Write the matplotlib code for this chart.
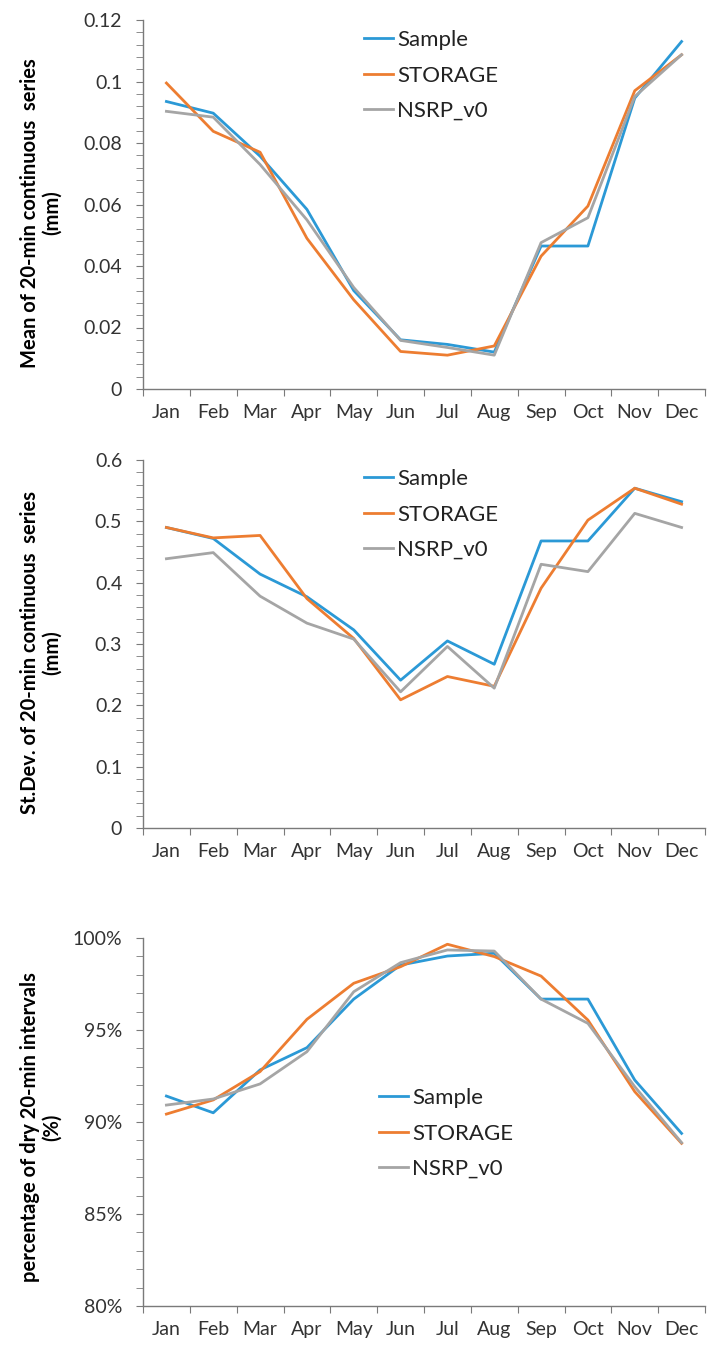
import matplotlib
matplotlib.use("Agg")
import matplotlib.pyplot as plt
from matplotlib.ticker import MultipleLocator, FixedLocator, FuncFormatter

plt.rcParams["font.family"] = ["Lato", "DejaVu Sans"]

MONTHS = ["Jan", "Feb", "Mar", "Apr", "May", "Jun",
          "Jul", "Aug", "Sep", "Oct", "Nov", "Dec"]
SERIES = ["Sample", "STORAGE", "NSRP_v0"]

# mean of 20-min continuous series (mm)
MEAN_SAMPLE = [0.0935, 0.0897, 0.0757, 0.0584, 0.032, 0.016, 0.0145, 0.012, 0.0465, 0.0465, 0.0946, 0.113]
MEAN_STORAGE = [0.0995, 0.0838, 0.077, 0.049, 0.029, 0.0122, 0.011, 0.014, 0.0432, 0.0595, 0.097, 0.1087]
MEAN_NSRP = [0.0903, 0.0884, 0.073, 0.055, 0.033, 0.0158, 0.0135, 0.011, 0.0476, 0.0557, 0.0951, 0.1087]

# st.dev. of 20-min continuous series (mm)
STD_SAMPLE = [0.490, 0.472, 0.414, 0.377, 0.323, 0.241, 0.305, 0.267, 0.468, 0.468, 0.554, 0.532]
STD_STORAGE = [0.490, 0.473, 0.477, 0.374, 0.309, 0.209, 0.247, 0.231, 0.391, 0.502, 0.554, 0.528]
STD_NSRP = [0.439, 0.449, 0.378, 0.334, 0.308, 0.222, 0.296, 0.228, 0.430, 0.418, 0.513, 0.490]

# percentage of dry 20-min intervals (%)
DRY_SAMPLE = [91.41, 90.5, 92.83, 94.04, 96.68, 98.53, 99.02, 99.17, 96.68, 96.68, 92.28, 89.38]
DRY_STORAGE = [90.43, 91.2, 92.74, 95.58, 97.54, 98.44, 99.66, 98.99, 97.93, 95.54, 91.65, 88.84]
DRY_NSRP = [90.92, 91.25, 92.07, 93.82, 97.08, 98.66, 99.35, 99.29, 96.68, 95.36, 91.92, 88.88]

COLORS = ["#2B99D6", "#ED7D31", "#A5A5A5"]
AXIS_COLOR = "#7a7a7a"
TEXT_COLOR = "#333333"

W, H = 708, 1351
fig = plt.figure(figsize=(W / 100, H / 100), dpi=100, facecolor="white")


def px_axes(top, bottom, left=143, right=705):
    return fig.add_axes([left / W, 1 - bottom / H, (right - left) / W, (bottom - top) / H])


def style_axes(ax, ymin, ymax, major, minor, fmt):
    ax.set_xlim(-0.5, 11.5)
    ax.set_ylim(ymin, ymax)
    for s in ["top", "right"]:
        ax.spines[s].set_visible(False)
    for s in ["left", "bottom"]:
        ax.spines[s].set_color(AXIS_COLOR)
        ax.spines[s].set_linewidth(1.0)
    # x: ticks between categories, labels centred
    ax.xaxis.set_major_locator(FixedLocator([i - 0.5 for i in range(13)]))
    ax.xaxis.set_major_formatter(FuncFormatter(lambda v, p: ""))
    ax.set_xticks(range(12), MONTHS, minor=True)
    ax.tick_params(axis="x", which="major", direction="out", length=5, color=AXIS_COLOR)
    ax.tick_params(axis="x", which="minor", length=0, pad=11, labelsize=14, labelcolor=TEXT_COLOR)
    # y
    ax.yaxis.set_major_locator(MultipleLocator(major))
    ax.yaxis.set_minor_locator(MultipleLocator(minor))
    ax.yaxis.set_major_formatter(FuncFormatter(fmt))
    ax.tick_params(axis="y", which="both", direction="out", length=5, color=AXIS_COLOR,
                   labelsize=14, labelcolor=TEXT_COLOR, pad=10)


def draw(ax, data):
    for name, vals, c in zip(SERIES, data, COLORS):
        ax.plot(range(12), vals, color=c, linewidth=2.0, label=name)


def add_legend(ax, x, y):
    fig.legend(*ax.get_legend_handles_labels(), loc="upper left",
               bbox_to_anchor=(x / W, 1 - y / H), frameon=False, fontsize=16,
               handlelength=1.3, handletextpad=0.2, labelspacing=0.7,
               borderpad=0, borderaxespad=0, labelcolor="#222222")


def general(v, p):
    return f"{v:.2f}".rstrip("0").rstrip(".")


# top panel
ax1 = px_axes(20, 389)
draw(ax1, [MEAN_SAMPLE, MEAN_STORAGE, MEAN_NSRP])
style_axes(ax1, 0, 0.12, 0.02, 0.004, general)
add_legend(ax1, 364, 30)

# middle panel
ax2 = px_axes(460, 828)
draw(ax2, [STD_SAMPLE, STD_STORAGE, STD_NSRP])
style_axes(ax2, 0, 0.6, 0.1, 0.02, general)
add_legend(ax2, 364, 469)

# bottom panel
ax3 = px_axes(938, 1306)
draw(ax3, [DRY_SAMPLE, DRY_STORAGE, DRY_NSRP])
style_axes(ax3, 80, 100, 5, 1, lambda v, p: f"{v:.0f}%")
add_legend(ax3, 379, 1088)

ylabels = [
    ("Mean of 20-min continuous  series\n(mm)", 213),
    ("St.Dev. of 20-min continuous  series\n(mm)", 653),
    ("percentage of dry 20-min intervals\n(%)", 1127),
]
for text, yc in ylabels:
    fig.text(41 / W, 1 - yc / H, text, rotation=90, ha="center", va="center",
             multialignment="center", fontsize=14.5, fontweight="bold", color="black",
             linespacing=1.1)

fig.savefig("out.png", dpi=100, facecolor="white")
